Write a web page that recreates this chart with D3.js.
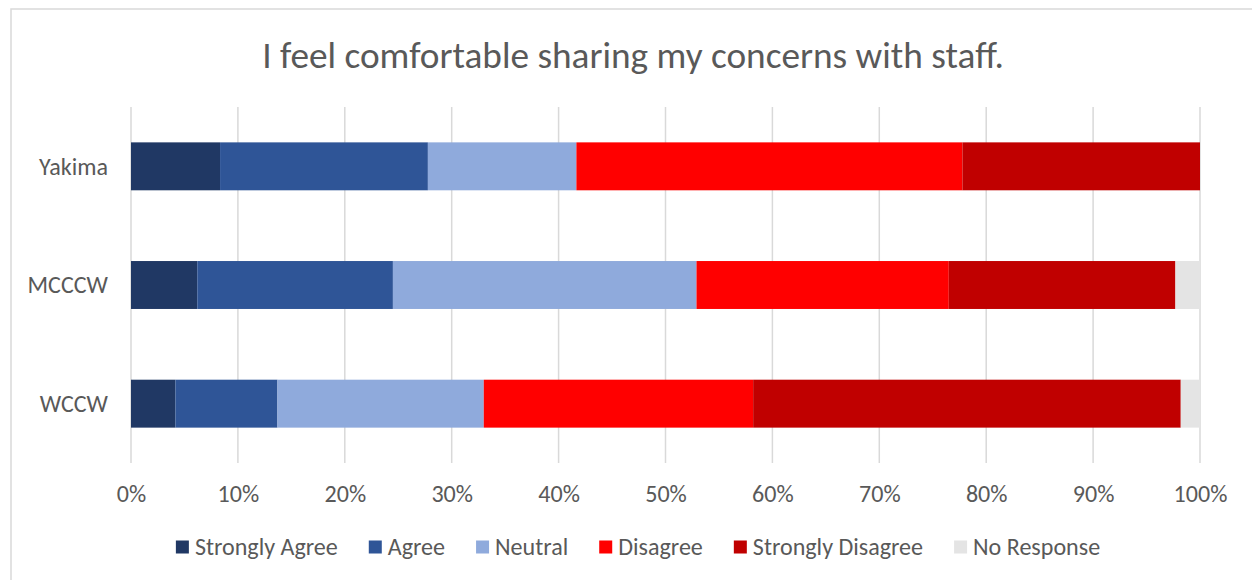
<!DOCTYPE html>
<html>
<head>
<meta charset="utf-8">
<script src="https://cdn.jsdelivr.net/npm/d3@7"></script>
<style>
  html, body { margin: 0; padding: 0; background: #fff; }
  svg { display: block; }
</style>
</head>
<body>
<svg id="chart" width="1252" height="580"></svg>
<script>
// ---- data ----
const categories = ["Yakima", "MCCCW", "WCCW"];
const seriesNames = ["Strongly Agree", "Agree", "Neutral", "Disagree", "Strongly Disagree", "No Response"];
const stronglyAgree    = [8.33, 6.2, 4.15];
const agree            = [19.44, 18.3, 9.55];
const neutral          = [13.89, 28.4, 19.3];
const disagree         = [36.11, 23.6, 25.2];
const stronglyDisagree = [22.22, 21.2, 40.0];
const noResponse       = [0, 2.3, 1.8];
const tickValues = [0, 0.1, 0.2, 0.3, 0.4, 0.5, 0.6, 0.7, 0.8, 0.9, 1.0];
const title = "I feel comfortable sharing my concerns with staff.";
const colors = ["#203864", "#2F5597", "#8FAADC", "#FF0000", "#C00000", "#E4E4E4"];

const seriesValues = [stronglyAgree, agree, neutral, disagree, stronglyDisagree, noResponse];
const rows = categories.map((c, i) => {
  const r = { category: c };
  const total = d3.sum(seriesValues, s => s[i]);
  seriesNames.forEach((n, k) => r[n] = seriesValues[k][i] / total);
  return r;
});

const FONT = "Carlito, Calibri, Lato, 'Noto Sans', sans-serif";
const TEXT = "#595959";
const svg = d3.select("#chart");

// helper: fit font size so that text reaches target width
function fitSize(str, target, weight) {
  const t = svg.append("text").attr("font-family", FONT).attr("font-size", 100)
    .attr("font-weight", weight || 400).text(str);
  const w = t.node().getComputedTextLength();
  t.remove();
  return 100 * target / w;
}

// chart border
svg.append("rect").attr("x", 11).attr("y", 9).attr("width", 1300).attr("height", 700)
  .attr("fill", "#fff").attr("stroke", "#D9D9D9").attr("stroke-width", 1.5);

// title
const titleSize = fitSize(title, 742, 300);
svg.append("text").attr("x", 633).attr("y", 55).attr("dy", "0.35em")
  .attr("text-anchor", "middle").attr("font-family", FONT).attr("font-weight", 300)
  .attr("font-size", titleSize).attr("fill", TEXT).text(title);

const x = d3.scaleLinear().domain([0, 1]).range([131, 1200]);
const y = d3.scaleBand().domain(categories).range([107, 463]).paddingInner(0.596).paddingOuter(0.298);

// gridlines
svg.append("g").selectAll("line").data(tickValues).join("line")
  .attr("x1", d => x(d)).attr("x2", d => x(d))
  .attr("y1", 107).attr("y2", 463)
  .attr("stroke", "#D9D9D9").attr("stroke-width", 1.5);

// bars
const stack = d3.stack().keys(seriesNames);
const stacked = stack(rows);
svg.append("g").selectAll("g").data(stacked).join("g")
  .attr("fill", (d, i) => colors[i])
  .selectAll("rect").data(d => d).join("rect")
  .attr("x", d => x(d[0]))
  .attr("width", d => Math.max(0, x(d[1]) - x(d[0])))
  .attr("y", d => y(d.data.category))
  .attr("height", y.bandwidth());

const labelSize = fitSize("Strongly Agree", 143);

// x axis tick labels
const xAxis = d3.axisBottom(x).tickValues(tickValues).tickFormat(d3.format(".0%")).tickSize(0).tickPadding(0);
const gx = svg.append("g").attr("transform", "translate(0,486)").call(xAxis);
gx.select(".domain").remove();
gx.selectAll("text").attr("font-family", FONT).attr("font-size", labelSize)
  .attr("fill", TEXT).attr("dy", "0.35em").attr("y", 8);

// y axis category labels
const yAxis = d3.axisLeft(y).tickSize(0).tickPadding(0);
const gy = svg.append("g").attr("transform", "translate(108,0)").call(yAxis);
gy.select(".domain").remove();
gy.selectAll("text").attr("font-family", FONT).attr("font-size", labelSize)
  .attr("fill", TEXT).attr("dy", "0.35em");

// legend
const legendY = 547, sq = 13, gapSq = 6, gapItem = 31;
const lg = svg.append("g");
const items = lg.selectAll("g").data(seriesNames).join("g");
items.append("rect").attr("width", sq).attr("height", sq).attr("y", legendY - sq / 2)
  .attr("fill", (d, i) => colors[i]);
items.append("text").attr("x", sq + gapSq).attr("y", legendY).attr("dy", "0.35em")
  .attr("font-family", FONT).attr("font-size", labelSize).attr("fill", TEXT).text(d => d);
let cx = 0;
items.each(function() {
  const g = d3.select(this);
  const w = g.select("text").node().getComputedTextLength();
  g.attr("transform", `translate(${cx},0)`);
  cx += sq + gapSq + w + gapItem;
});
const totalW = cx - gapItem;
lg.attr("transform", `translate(${638 - totalW / 2},0)`);
</script>
</body>
</html>
